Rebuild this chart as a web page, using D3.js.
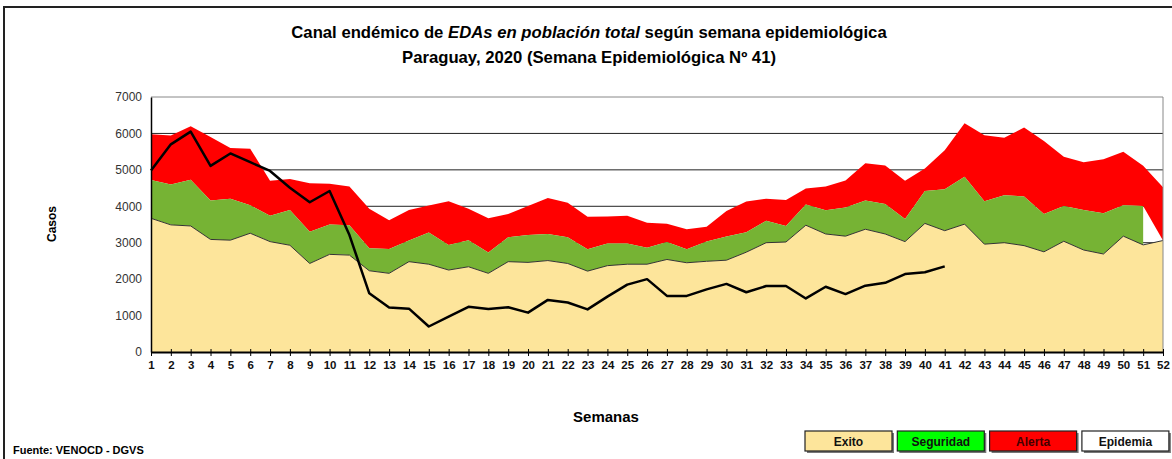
<!DOCTYPE html>
<html>
<head>
<meta charset="utf-8">
<script src="https://cdn.jsdelivr.net/npm/d3@7"></script>
<style>
  body { margin: 0; background: #fff; }
  svg text { font-family: "Liberation Sans", Arial, sans-serif; }
</style>
</head>
<body>
<svg id="chart" width="1172" height="459"></svg>
<script>
// semanas epidemiologicas
const weeks = d3.range(1, 53);
// limite superior de cada zona (casos)
const exito = [3670, 3490, 3460, 3090, 3070, 3260, 3030, 2930, 2430, 2680,
  2660, 2230, 2160, 2480, 2410, 2250, 2340, 2160, 2480, 2460,
  2510, 2430, 2220, 2370, 2410, 2410, 2540, 2450, 2490, 2520,
  2740, 3000, 3020, 3480, 3240, 3180, 3370, 3240, 3030, 3530,
  3330, 3510, 2960, 3000, 2920, 2750, 3040, 2800, 2690, 3180,
  2940, 3060];
const seguridad = [4720, 4600, 4730, 4160, 4210, 4030, 3740, 3900, 3300, 3500,
  3480, 2850, 2830, 3060, 3280, 2940, 3070, 2730, 3150, 3210,
  3240, 3150, 2820, 2980, 2980, 2860, 3020, 2820, 3030, 3170,
  3290, 3600, 3460, 4050, 3890, 3970, 4160, 4060, 3650, 4420,
  4470, 4810, 4140, 4300, 4270, 3790, 4010, 3900, 3810, 4030,
  4010, null];
const alerta = [5980, 5940, 6200, 5900, 5600, 5580, 4700, 4750, 4630, 4620,
  4540, 3930, 3620, 3900, 4020, 4140, 3930, 3670, 3790, 4010,
  4230, 4100, 3710, 3720, 3740, 3550, 3520, 3370, 3440, 3870,
  4130, 4210, 4170, 4490, 4540, 4710, 5180, 5120, 4700, 5040,
  5540, 6280, 5950, 5880, 6160, 5790, 5360, 5210, 5290, 5500,
  5110, 4520];
// casos 2020 (hasta la semana 41)
const casos2020 = [4980, 5700, 6050, 5110, 5450, 5210, 4970, 4510, 4110, 4420,
  3210, 1610, 1220, 1190, 700, 970, 1240, 1180, 1230, 1080,
  1430, 1360, 1170, 1520, 1850, 2000, 1540, 1540, 1720, 1870,
  1640, 1810, 1810, 1470, 1790, 1590, 1820, 1900, 2140, 2190,
  2350];
const yTicks = [0, 1000, 2000, 3000, 4000, 5000, 6000, 7000];
const legendItems = ["Exito", "Seguridad", "Alerta", "Epidemia"];
const legendColors = ["#fde59b", "#00ff00", "#ff0000", "#ffffff"];

const svg = d3.select("#chart");

// marco exterior (solo se ven el borde izquierdo y el superior)
svg.append("rect")
  .attr("x", 4).attr("y", 7).attr("width", 1180).attr("height", 460)
  .attr("fill", "none").attr("stroke", "#222").attr("stroke-width", 2);

const x = d3.scaleLinear().domain([1, 52]).range([151, 1163]);
const y = d3.scaleLinear().domain([0, 7000]).range([352, 97]);

const rows = weeks.map((w, i) => ({
  w: w, ex: exito[i], seg: seguridad[i], al: alerta[i]
}));

// lineas de la grilla
svg.append("g")
  .selectAll("line")
  .data(yTicks.filter(t => t > 0 && t < 7000))
  .join("line")
  .attr("x1", x(1)).attr("x2", x(52))
  .attr("y1", d => y(d)).attr("y2", d => y(d))
  .attr("stroke", "#222").attr("stroke-width", 1);

// zona de alerta
svg.append("path")
  .datum(rows)
  .attr("fill", "#ff0000")
  .attr("d", d3.area()
    .x(d => x(d.w))
    .y0(d => y(d.seg == null ? d.ex : d.seg))
    .y1(d => y(d.al)));

// zona de seguridad
svg.append("path")
  .datum(rows)
  .attr("fill", "#76b334")
  .attr("d", d3.area()
    .defined(d => d.seg != null)
    .x(d => x(d.w))
    .y0(d => y(d.ex))
    .y1(d => y(d.seg)));

// zona de exito
svg.append("path")
  .datum(rows)
  .attr("fill", "#fde59b")
  .attr("d", d3.area()
    .x(d => x(d.w))
    .y0(y(0))
    .y1(d => y(d.ex)));
svg.append("path")
  .datum(rows)
  .attr("fill", "none").attr("stroke", "#333").attr("stroke-width", 1)
  .attr("d", d3.line().x(d => x(d.w)).y(d => y(d.ex)));

// borde superior y derecho del area de trazado
svg.append("path")
  .attr("d", `M${x(1)},${y(7000)}H${x(52)}V${y(0)}`)
  .attr("fill", "none").attr("stroke", "#888").attr("stroke-width", 1);

// casos 2020
svg.append("path")
  .datum(casos2020)
  .attr("fill", "none").attr("stroke", "#000").attr("stroke-width", 2.5)
  .attr("stroke-linejoin", "round")
  .attr("d", d3.line().x((d, i) => x(weeks[i])).y(d => y(d)));

// eje x
const xAxis = svg.append("g")
  .attr("transform", `translate(0,${y(0)})`)
  .call(d3.axisBottom(x).tickValues(weeks).tickFormat(d3.format("d")).tickSize(4).tickSizeOuter(0));
xAxis.select(".domain").attr("stroke", "#000").attr("stroke-width", 2);
xAxis.selectAll(".tick line").attr("y1", -3).attr("stroke", "#000");
xAxis.selectAll("text")
  .attr("dy", "0.85em").attr("y", 7)
  .attr("font-size", 11.5).attr("font-weight", "bold").attr("fill", "#111");

// eje y
const yAxis = svg.append("g")
  .attr("transform", `translate(${x(1)},0)`)
  .call(d3.axisLeft(y).tickValues(yTicks).tickFormat(d3.format("d")).tickSize(0).tickPadding(9));
yAxis.select(".domain").attr("stroke", "#000").attr("stroke-width", 1.5);
yAxis.selectAll("text").attr("font-size", 12).attr("fill", "#333");

// titulos
const title1 = svg.append("text")
  .attr("x", 589).attr("y", 38)
  .attr("text-anchor", "middle").attr("font-size", 16.7).attr("font-weight", "bold");
title1.append("tspan").text("Canal endémico de ");
title1.append("tspan").attr("font-style", "italic").text("EDAs en población total");
title1.append("tspan").text(" según semana epidemiológica");
svg.append("text")
  .attr("x", 589).attr("y", 63)
  .attr("text-anchor", "middle").attr("font-size", 16.7).attr("font-weight", "bold")
  .text("Paraguay, 2020 (Semana Epidemiológica Nº 41)");

svg.append("text")
  .attr("transform", "translate(56,224) rotate(-90)")
  .attr("text-anchor", "middle").attr("font-size", 12).attr("font-weight", "bold")
  .text("Casos");
svg.append("text")
  .attr("x", 606).attr("y", 422)
  .attr("text-anchor", "middle").attr("font-size", 15).attr("font-weight", "bold")
  .text("Semanas");
svg.append("text")
  .attr("x", 13).attr("y", 454)
  .attr("font-size", 11).attr("font-weight", "bold")
  .text("Fuente: VENOCD - DGVS");

// leyenda
const legend = svg.append("g")
  .selectAll("g")
  .data(legendItems)
  .join("g")
  .attr("transform", (d, i) => `translate(${805 + i * 92.3},431)`);
legend.append("rect")
  .attr("x", 2).attr("y", 2).attr("width", 87).attr("height", 20)
  .attr("fill", "#777");
legend.append("rect")
  .attr("width", 87).attr("height", 20)
  .attr("fill", (d, i) => legendColors[i])
  .attr("stroke", "#222").attr("stroke-width", 1.2);
legend.append("text")
  .attr("x", 43.5).attr("y", 15)
  .attr("text-anchor", "middle").attr("font-size", 12).attr("font-weight", "bold")
  .attr("fill", d => d === "Alerta" ? "#400" : "#111")
  .text(d => d);
</script>
</body>
</html>
